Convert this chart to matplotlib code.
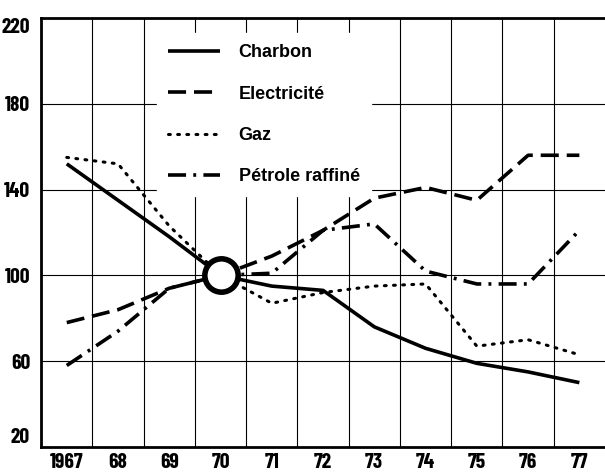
import matplotlib.pyplot as plt

plt.rcParams['font.family'] = ['Barlow Condensed', 'DejaVu Sans']

years = [1967, 1968, 1969, 1970, 1971, 1972, 1973, 1974, 1975, 1976, 1977]
year_labels = ['1967', '68', '69', '70', '71', '72', '73', '74', '75', '76', '77']

charbon = [152, 135, 118, 100, 95, 93, 76, 66, 59, 55, 50]
electricite = [78, 84, 94, 100, 109, 121, 136, 141, 135, 156, 156]
gaz = [155, 152, 123, 100, 87, 92, 95, 96, 67, 70, 63]
petrole = [58, 74, 94, 100, 101, 121, 124, 102, 96, 96, 121]

fig = plt.figure(figsize=(6.05, 4.73), dpi=100)
ax = fig.add_axes([0.068, 0.055, 0.932, 0.907])

ax.plot(years, charbon, color='black', lw=2.6, solid_capstyle='butt', label='Charbon')
ax.plot(years, electricite, color='black', lw=2.6, dashes=(5, 2.2), label='Electricité')
ax.plot(years, gaz, color='black', lw=2.2, dashes=(0.6, 2.4), dash_capstyle='round', label='Gaz')
ax.plot(years, petrole, color='black', lw=2.6, dashes=(5, 2, 0.8, 2), label='Pétrole raffiné')

# base year marker
ax.plot([1970], [100], 'o', ms=24, mfc='white', mec='black', mew=4, zorder=5)

ax.set_xlim(1966.5, 1977.5)
ax.set_ylim(20, 220)
ax.set_yticks([20, 60, 100, 140, 180, 220])
ax.set_xticks(years)
ax.set_xticklabels(year_labels)

for y in [60, 100, 140, 180]:
    ax.axhline(y, color='black', lw=0.8, zorder=1)
for x in years[:-1]:
    ax.axvline(x + 0.5, color='black', lw=0.8, zorder=1)

ax.tick_params(axis='x', length=0, labelsize=15.5, pad=4)
ax.tick_params(axis='y', length=0, labelsize=15.5, pad=8)
for lab in ax.get_xticklabels() + ax.get_yticklabels():
    lab.set_fontweight('bold')
ax.get_yticklabels()[-1].set_verticalalignment('top')
ax.get_yticklabels()[0].set_verticalalignment('bottom')

ax.spines['right'].set_visible(False)
for s in ['left', 'bottom', 'top']:
    ax.spines[s].set_linewidth(2)

leg = ax.legend(loc='upper left', bbox_to_anchor=(0.19, 0.985), frameon=True,
                fancybox=False, edgecolor='white', facecolor='white', framealpha=1,
                handlelength=2.9, handletextpad=1.0, labelspacing=1.35, borderpad=0.6,
                prop={'family': ['Liberation Sans', 'DejaVu Sans'], 'weight': 'bold', 'size': 13})
leg.set_zorder(10)

fig.savefig('out.png', dpi=100)
